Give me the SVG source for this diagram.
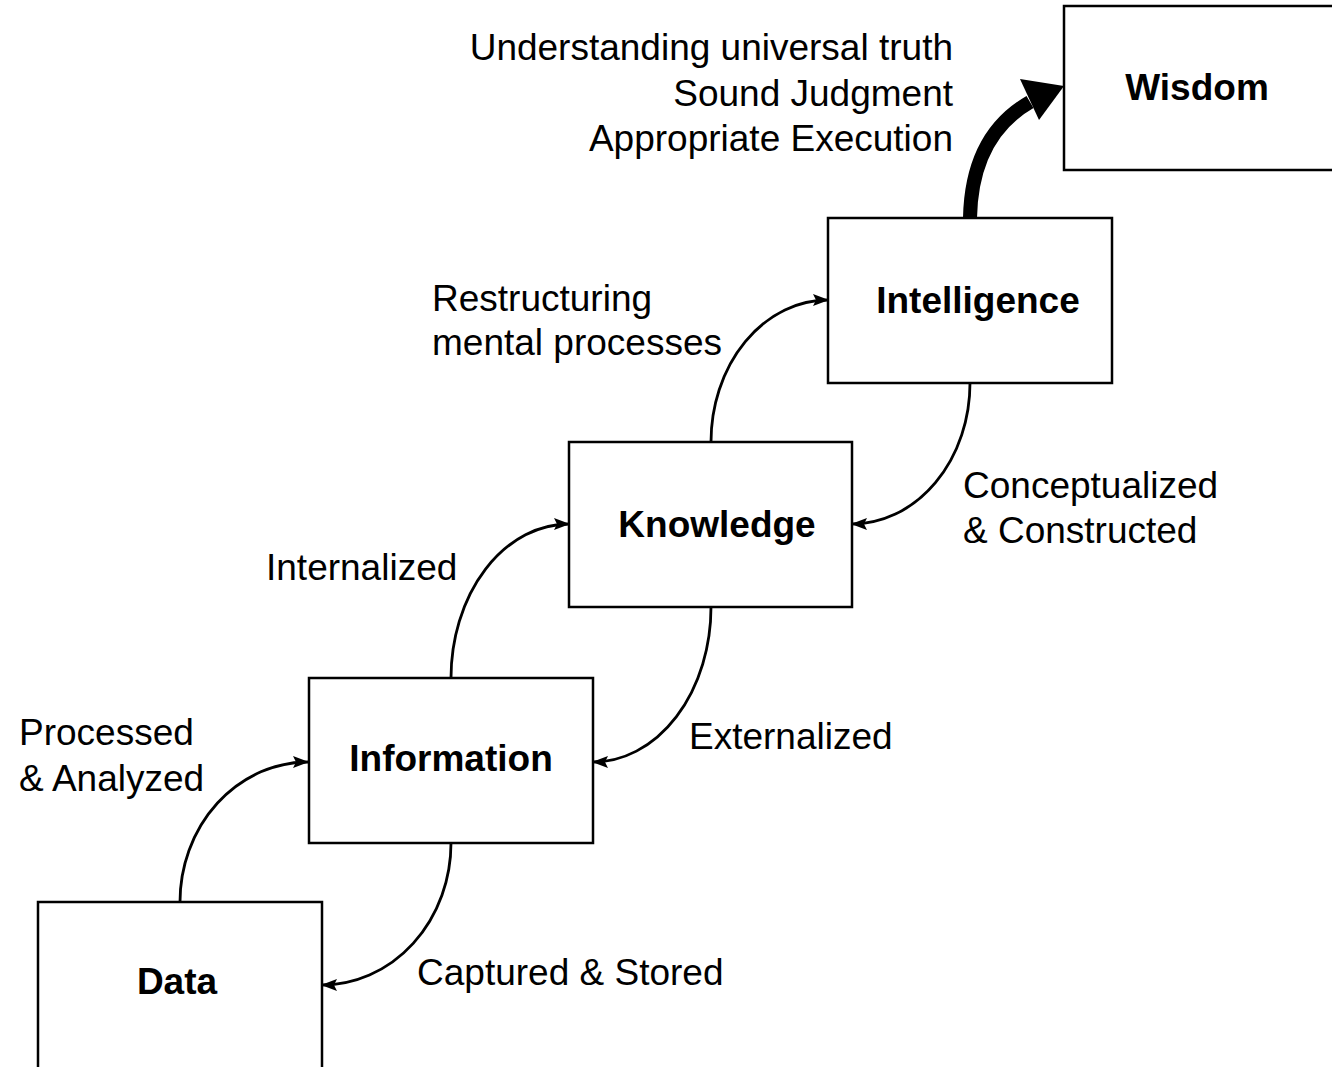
<svg xmlns="http://www.w3.org/2000/svg" width="1332" height="1067" viewBox="0 0 1332 1067">
<style>
.box{fill:#fff;stroke:#000;stroke-width:2.5}
.lbl{font-family:"Liberation Sans",Arial,Helvetica,sans-serif;font-size:37px;fill:#000}
.nm{font-family:"Liberation Sans",Arial,Helvetica,sans-serif;font-size:37px;font-weight:bold;fill:#000;text-anchor:middle}
.con{fill:none;stroke:#000;stroke-width:2.8}
</style>
<defs>
<marker id="ah" markerWidth="16" markerHeight="14" refX="15" refY="7" orient="auto" markerUnits="userSpaceOnUse">
<path d="M0,1 L16,7 L0,13 L3,7 z" fill="#000"/>
</marker>
</defs>
<rect width="1332" height="1067" fill="#fff"/>
<g id="data"><rect class="box" x="38" y="902" width="284" height="180"/><text class="nm" x="177" y="994">Data</text></g>
<g id="information"><rect class="box" x="309" y="678" width="284" height="165"/><text class="nm" x="451" y="771">Information</text></g>
<g id="knowledge"><rect class="box" x="569" y="442" width="283" height="165"/><text class="nm" x="717" y="537">Knowledge</text></g>
<g id="intelligence"><rect class="box" x="828" y="218" width="284" height="165"/><text class="nm" x="978" y="313">Intelligence</text></g>
<g id="wisdom"><rect class="box" x="1064" y="6" width="290" height="164"/><text class="nm" x="1197" y="100">Wisdom</text></g>
<g id="connectors">
<path class="con" d="M180,902 A128,140 0 0 1 308,762" marker-end="url(#ah)"/>
<path class="con" d="M451,843 A129,142 0 0 1 322,985" marker-end="url(#ah)"/>
<path class="con" d="M451,678 A118,154 0 0 1 569,524" marker-end="url(#ah)"/>
<path class="con" d="M711,607 A118,155 0 0 1 593,762" marker-end="url(#ah)"/>
<path class="con" d="M711,442 A117,142 0 0 1 828,300" marker-end="url(#ah)"/>
<path class="con" d="M970,383 A118,141 0 0 1 852,524" marker-end="url(#ah)"/>
<path d="M970,218 C971,165 990,125 1030,102" fill="none" stroke="#000" stroke-width="14"/>
<polygon points="1020,79 1064,86 1039,120" fill="#000"/>
</g>
<g id="labels">
<text class="lbl" x="953" y="60" text-anchor="end">Understanding universal truth</text>
<text class="lbl" x="953" y="106" text-anchor="end">Sound Judgment</text>
<text class="lbl" x="953" y="151" text-anchor="end">Appropriate Execution</text>
<text class="lbl" x="432" y="311">Restructuring</text>
<text class="lbl" x="432" y="355">mental processes</text>
<text class="lbl" x="963" y="498">Conceptualized</text>
<text class="lbl" x="963" y="543">&amp; Constructed</text>
<text class="lbl" x="266" y="580">Internalized</text>
<text class="lbl" x="689" y="749">Externalized</text>
<text class="lbl" x="19" y="745">Processed</text>
<text class="lbl" x="19" y="791">&amp; Analyzed</text>
<text class="lbl" x="417" y="985">Captured &amp; Stored</text>
</g>
</svg>
